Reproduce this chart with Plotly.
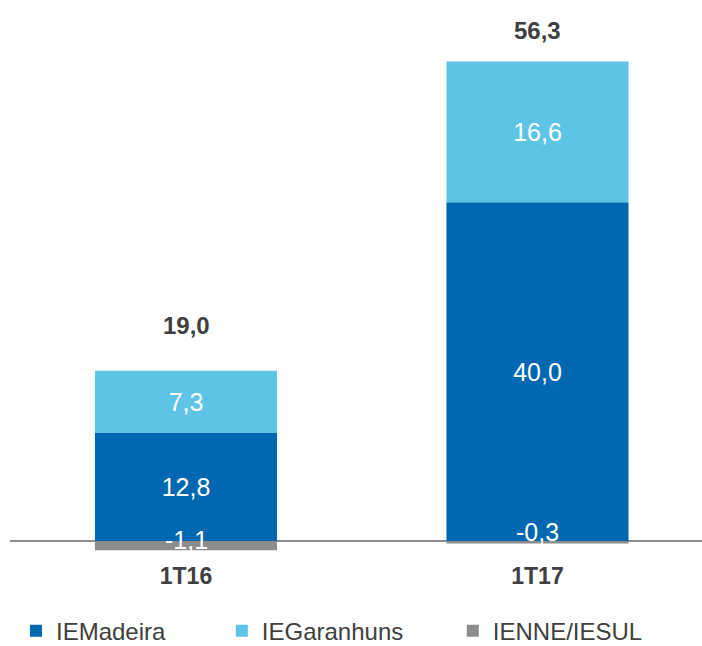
import plotly.graph_objects as go

# Quarterly results by concession (R$ million)
periods = ["1T16", "1T17"]
ie_madeira = [12.8, 40.0]
ie_garanhuns = [7.3, 16.6]
ienne_iesul = [-1.1, -0.3]
totals = [19.0, 56.3]

series_names = ["IEMadeira", "IEGaranhuns", "IENNE/IESUL"]
series_values = [ie_madeira, ie_garanhuns, ienne_iesul]
series_colors = ["#0068B0", "#5EC4E6", "#8C8C8D"]
legend_ids = ["legend", "legend2", "legend3"]

FONT = "Liberation Sans Narrow, Arial Narrow, Liberation Sans, Arial, sans-serif"


def fmt(v):
    return f"{v:.1f}".replace(".", ",")


fig = go.Figure()
for name, vals, color, lg in zip(series_names, series_values, series_colors, legend_ids):
    is_negative = all(v < 0 for v in vals)
    fig.add_trace(go.Bar(
        x=periods,
        y=vals,
        name=name,
        marker=dict(color=color, line=dict(width=0)),
        text=None if is_negative else [fmt(v) for v in vals],
        textposition="inside",
        insidetextanchor="middle",
        textangle=0,
        textfont=dict(family=FONT, size=25, color="white"),
        legend=lg,
        cliponaxis=False,
    ))

# labels of the thin negative segments, nudged up over the zero line
neg_shift = [6, 10]
for p, v, s in zip(periods, ienne_iesul, neg_shift):
    fig.add_annotation(
        x=p, y=v / 2, xref="x", yref="y",
        text=fmt(v), showarrow=False, yanchor="middle", yshift=s,
        font=dict(family=FONT, size=25, color="white"),
    )

# totals above each stack
total_shift = [55, 34]
for p, t, s in zip(periods, totals, total_shift):
    fig.add_annotation(
        x=p, y=t, xref="x", yref="y",
        text=f"<b>{fmt(t)}</b>",
        showarrow=False, yanchor="middle", yshift=s,
        font=dict(family=FONT, size=24, color="#404040"),
    )

legend_x = [0.0228, 0.316, 0.645]
legend_common = dict(
    orientation="h", xref="container", yref="container",
    yanchor="top", y=0.058, xanchor="left",
    font=dict(family=FONT, size=24, color="#404040"),
    bgcolor="rgba(0,0,0,0)", itemwidth=30,
)
legends = {}
for lg, lx in zip(legend_ids, legend_x):
    legends[lg] = dict(legend_common, x=lx)

fig.update_layout(
    width=702, height=646,
    margin=dict(l=10, r=0, t=0, b=86),
    paper_bgcolor="white", plot_bgcolor="white",
    barmode="relative",
    bargap=0.482,
    uniformtext=dict(minsize=25, mode="show"),
    showlegend=True,
    **legends,
    xaxis=dict(
        range=[-0.5007, 1.468],
        showgrid=False, showline=False, zeroline=False,
        ticks="", tickfont=dict(family=FONT, size=23, color="#404040"),
        tickprefix="<b>", ticksuffix="</b>",
    ),
    yaxis=dict(
        range=[-2.24, 63.87],
        showgrid=False, showticklabels=False, ticks="",
        zeroline=True, zerolinecolor="#8C8C8C", zerolinewidth=1.5,
    ),
)

fig.write_html("out.html")
